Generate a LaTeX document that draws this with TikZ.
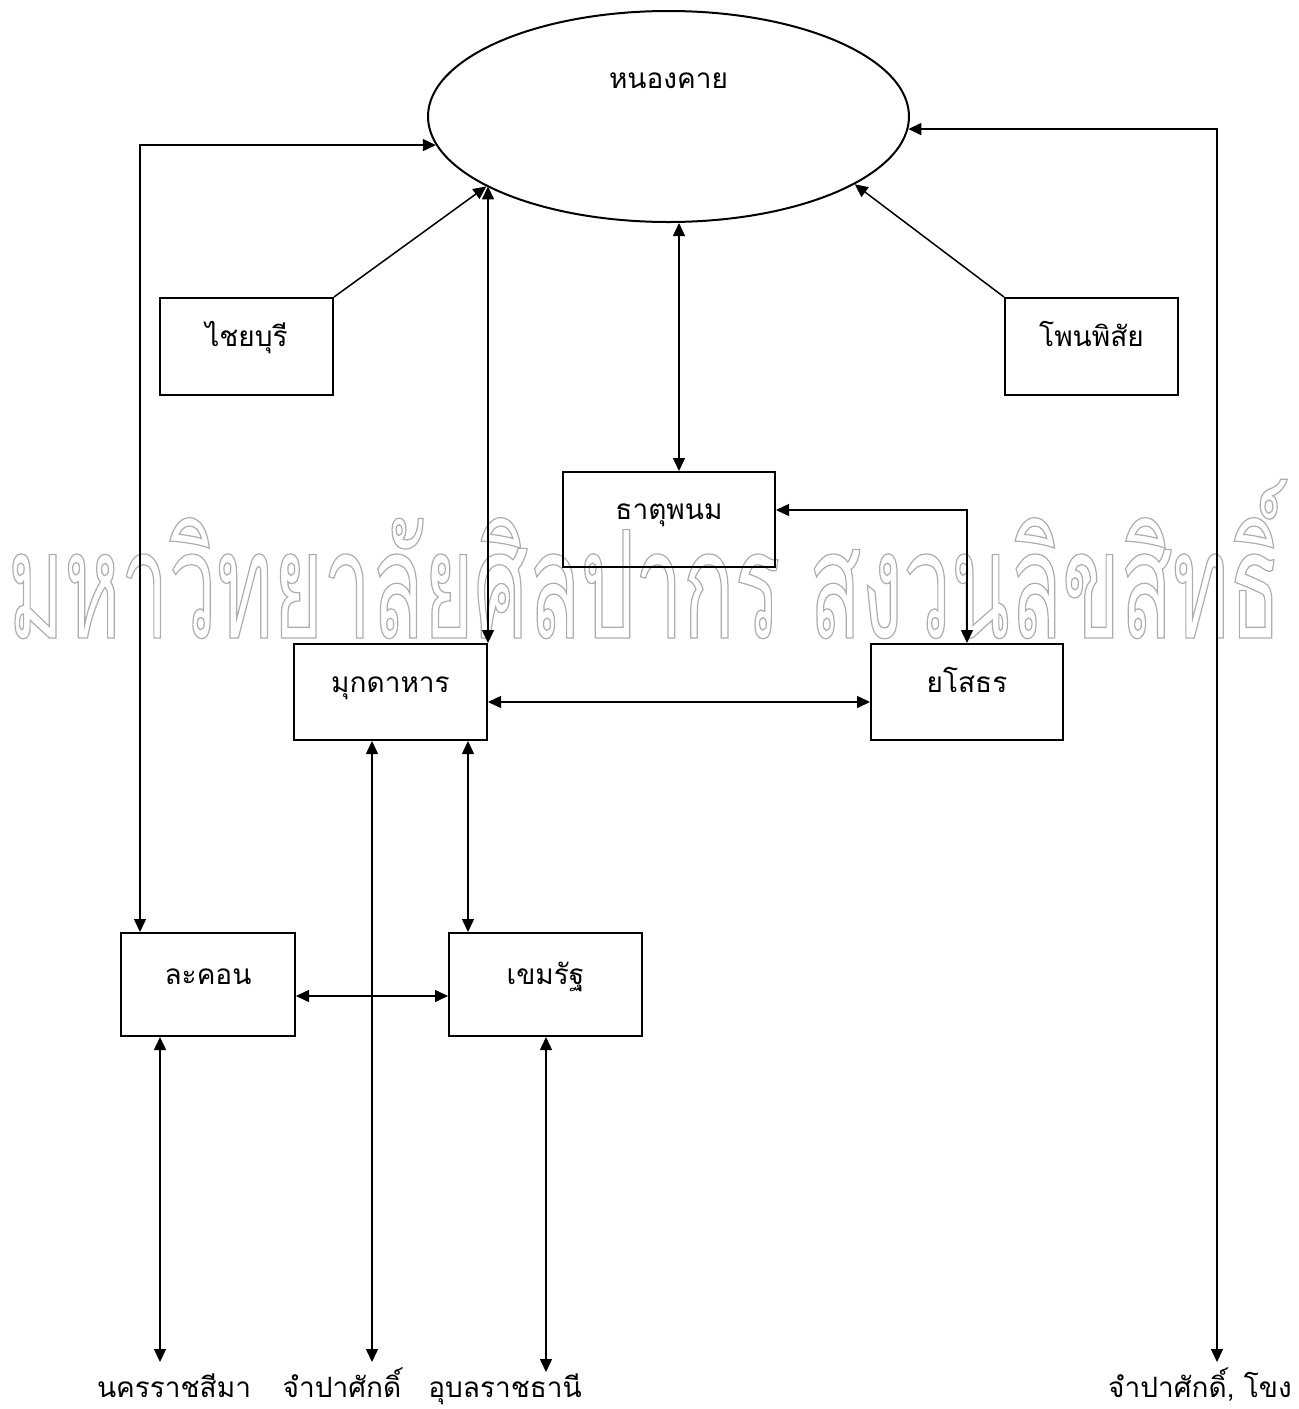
\documentclass[tikz,border=0pt]{standalone}
\usepackage{fontspec}
\newfontfamily\thaifont[Script=Thai]{Loma}
\newfontfamily\wmfont[Script=Thai,FakeStretch=0.57]{Loma}
\usetikzlibrary{shapes.geometric,arrows.meta}
\tikzset{
 prov/.style={draw,line width=1pt,inner sep=0pt,minimum width=#1,minimum height=48.5pt,text height=9pt,text depth=9pt},
 link/.style={line width=0.75pt,{Triangle[length=6.5pt,width=6pt]}-{Triangle[length=6.5pt,width=6pt]}},
 oneway/.style={line width=0.75pt,-{Triangle[length=6.5pt,width=6pt]}},
 town/.style={anchor=base}
}
\begin{document}
\begin{tikzpicture}[x=0.5pt,y=-0.5pt,font=\thaifont\fontsize{14}{16}\selectfont]
 \useasboundingbox (0,0) rectangle (1298,1409);
 \node[town,font=\wmfont\fontsize{75}{80}\selectfont,text=black!35] (wm) at (644.5,638) {\special{pdf:literal 1 Tr 0.6 w 0.68 G}มหาวิทยาลัยศิลปากร สงวนลิขสิทธิ์\special{pdf:literal 0 Tr}};
 \node[ellipse,draw,line width=1pt,inner sep=0pt,minimum width=240.5pt,minimum height=105.5pt,text height=9pt,text depth=37.5pt] (nongkhai) at (668.5,116.5) {หนองคาย};
 \node[prov=86.5pt] (chaiyaburi) at (246.5,346.5) {ไชยบุรี};
 \node[prov=86.5pt] (phonphisai) at (1091.5,346.5) {โพนพิสัย};
 \node[prov=106pt,minimum height=47.5pt] (thatphanom) at (669,519.5) {ธาตุพนม};
 \node[prov=96.5pt,minimum height=48pt] (mukdahan) at (390.5,692) {มุกดาหาร};
 \node[prov=96pt,minimum height=48pt] (yasothon) at (967,692) {ยโสธร};
 \node[prov=87pt,minimum height=51.5pt] (lakhon) at (208,984.5) {ละคอน};
 \node[prov=96.5pt,minimum height=51.5pt] (khemmarat) at (545.5,984.5) {เขมรัฐ};
 % free ends at the bottom
 \coordinate (korat) at (160,1362);
 \coordinate (champa) at (372,1362);
 \coordinate (ubon) at (546,1372);
 \coordinate (champakhong) at (1217,1362);
 \node[town] (koratlbl) at (174,1397) {นครราชสีมา};
 \node[town] (champalbl) at (342,1397) {จำปาศักดิ์};
 \node[town] (ubonlbl) at (505,1397) {อุบลราชธานี};
 \node[town] (champakhonglbl) at (1200,1397) {จำปาศักดิ์, โขง};
 % links
 \draw[link] ([xshift=10pt]lakhon.north west) |- (nongkhai.187);
 \draw[oneway] (chaiyaburi.north east) -- (nongkhai.201);
 \draw[link] (mukdahan.north east) -- (mukdahan.north east |- nongkhai.201);
 \draw[link] ([xshift=5pt]thatphanom.north) -- ([xshift=5pt]thatphanom.north |- nongkhai.south);
 \draw[oneway] (phonphisai.north west) -- (nongkhai.340);
 \draw[link] (nongkhai.357.7) -| (champakhong);
 \draw[link] ([yshift=4.75pt]thatphanom.east) -| (yasothon.north);
 \draw[link] ([yshift=-5pt]mukdahan.east) -- ([yshift=-5pt]yasothon.west);
 \draw[link] (mukdahan.south -| champa) -- (champa);
 \draw[link] ([xshift=-10pt]mukdahan.south east) -- ([xshift=-10pt]mukdahan.south east |- khemmarat.north);
 \draw[link] ([yshift=-5.75pt]lakhon.east) -- ([yshift=-5.75pt]khemmarat.west);
 \draw[link] (lakhon.south -| korat) -- (korat);
 \draw[link] (khemmarat.south -| ubon) -- (ubon);
\end{tikzpicture}
\end{document}
